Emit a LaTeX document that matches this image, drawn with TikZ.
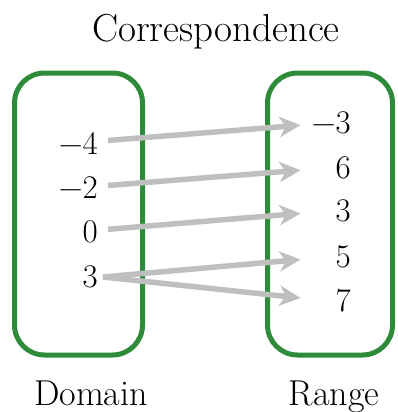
\documentclass[tikz,border=0pt]{standalone}
\usepackage{fontspec}
\usepackage{xcolor}
\usepackage{tikz}
\usetikzlibrary{arrows.meta,positioning}
\definecolor{setgreen}{HTML}{2E8B3A}
\definecolor{mapgray}{HTML}{BFBFBF}
\tikzset{
  setbox/.style={
    rectangle, draw=setgreen, line width=5pt, rounded corners=30pt,
    minimum height=282pt
  },
  domnum/.style={
    font=\fontsize{33}{33}\selectfont, anchor=east,
    text width=44pt, align=right, inner xsep=10pt, inner ysep=0pt
  },
  rngnum/.style={
    font=\fontsize{33}{33}\selectfont, anchor=east,
    text width=44pt, align=right, inner xsep=6pt, inner ysep=0pt
  },
  maparrow/.style={
    -{Stealth[length=21pt, width=20pt, inset=6pt]}, line width=5.5pt, color=mapgray
  },
  caption/.style={font=\fontsize{36}{36}\selectfont, anchor=base, inner sep=0pt}
}

\begin{document}
\begin{tikzpicture}[x=1pt, y=-1pt]
  \useasboundingbox (0,0) rectangle (398,412);
  % Labels
  \node[caption, font=\fontsize{39}{39}\selectfont] (title) at (216,42) {Correspondence};
  \node[caption] (domlbl) at (91,405) {Domain};
  \node[caption] (rnglbl) at (334,405) {Range};

  % Sets
  \node[setbox, minimum width=128pt] (dombox) at (78.5,214) {};
  \node[setbox, minimum width=125pt] (rngbox) at (330,214) {};

  % Domain
  \node[domnum] (dm4) at (108,143) {−4};
  \node[domnum] (dm2) at (108,188) {−2};
  \node[domnum] (d0) at (108,232) {0};
  \node[domnum] (d3) at (108,277) {3};

  % Range
  \node[rngnum] (rm3) at (357,123) {−3};
  \node[rngnum] (r6) at (357,168) {6};
  \node[rngnum] (r3) at (357,211) {3};
  \node[rngnum] (r5) at (357,257) {5};
  \node[rngnum] (r7) at (357,301) {7};

  % Mapping
  \draw[maparrow] (dm4) -- (rm3);
  \draw[maparrow] (dm2) -- (r6);
  \draw[maparrow] (d0) -- (r3);
  \draw[maparrow] ([xshift=-5pt]d3.east) -- (r5);
  \draw[maparrow] ([xshift=-5pt]d3.east) -- (r7);
\end{tikzpicture}
\end{document}
